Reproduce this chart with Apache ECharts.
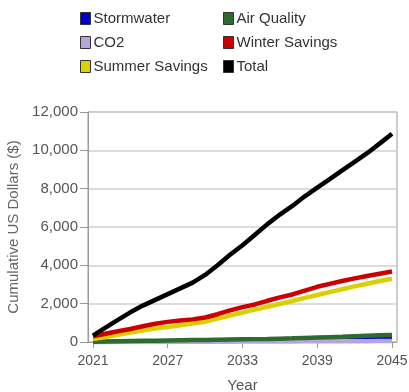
<!DOCTYPE html>
<html><head><meta charset="utf-8">
<script src="https://cdn.jsdelivr.net/npm/echarts@6/dist/echarts.min.js"></script>
<style>html,body{margin:0;padding:0;background:#fff}#c{width:409px;height:392px}</style>
</head><body><div id="c"></div>
<script>
var years = [2021,2022,2023,2024,2025,2026,2027,2028,2029,2030,2031,2032,2033,2034,2035,2036,2037,2038,2039,2040,2041,2042,2043,2044,2045];
var xTickLabels = [2021,2027,2033,2039,2045];
var yTickLabels = [0,2000,4000,6000,8000,10000,12000];
var stormwater = [0,5,10,15,20,25,30,35,40,45,50,55,60,65,70,75,80,90,100,110,120,130,140,150,160];
var co2 = [0,2,4,6,8,10,12,14,16,18,20,22,24,26,28,30,32,34,36,38,40,42,44,46,48];
var airQuality = [10,25,40,50,60,70,80,90,100,110,120,130,140,150,160,175,190,210,230,250,270,300,330,350,370];
var winterSavings = [300,430,560,680,820,950,1050,1120,1180,1280,1450,1650,1820,1960,2150,2330,2480,2680,2880,3030,3180,3320,3440,3560,3680];
var summerSavings = [150,260,380,500,600,700,780,870,960,1060,1220,1380,1530,1690,1840,1990,2140,2300,2450,2600,2750,2900,3040,3180,3300];
var total = [330,750,1150,1550,1900,2200,2500,2800,3100,3500,4000,4550,5050,5600,6150,6650,7100,7600,8050,8500,8950,9400,9850,10350,10870];

function pairs(v){ return years.map(function(y,i){ return [y, v[i]]; }); }
var font = 'Liberation Sans, Arial, sans-serif';
var seriesDefs = [
  ['Stormwater', stormwater, '#0000cc'],
  ['CO2', co2, '#b4a6dc'],
  ['Air Quality', airQuality, '#2f6a2f'],
  ['Summer Savings', summerSavings, '#d8d000'],
  ['Winter Savings', winterSavings, '#cc0000'],
  ['Total', total, '#000000']
];
var chart = echarts.init(document.getElementById('c'), null, {renderer:'canvas'});
var legendBase = {
  orient:'vertical', top:6, itemWidth:10, itemHeight:12, itemGap:9, icon:'rect',
  itemStyle:{borderColor:'#333', borderWidth:1},
  textStyle:{fontFamily:font, fontSize:15, color:'#333', padding:[0,0,0,-2]}
};
chart.setOption({
  animation:false,
  color: seriesDefs.map(function(s){return s[2];}),
  legend:[
    Object.assign({}, legendBase, {left:75, data:['Stormwater','CO2','Summer Savings']}),
    Object.assign({}, legendBase, {left:218, data:['Air Quality','Winter Savings','Total']})
  ],
  grid:{left:88, top:112, right:12, bottom:50, show:true, borderColor:'#999', borderWidth:1,
    containLabel:false, outerBoundsMode:'none'},
  xAxis:{
    type:'value', min:2020.6, max:2045.4,
    name:'Year', nameLocation:'middle', nameGap:36,
    nameTextStyle:{fontFamily:font, fontSize:15, color:'#555'},
    axisLine:{show:true, lineStyle:{color:'#999', width:1}},
    axisTick:{show:true, length:6, customValues:xTickLabels, lineStyle:{color:'#999'}},
    axisLabel:{customValues:xTickLabels, fontFamily:font, fontSize:14, color:'#555', margin:12,
      formatter:function(v){ return String(v); }},
    splitLine:{show:false}
  },
  yAxis:{
    type:'value', min:0, max:12000, interval:2000,
    name:'Cumulative US Dollars ($)', nameLocation:'middle', nameGap:56,
    nameTextStyle:{fontFamily:font, fontSize:15, color:'#666'},
    axisLine:{show:true, lineStyle:{color:'#999', width:1}},
    axisTick:{show:true, length:8, lineStyle:{color:'#999'}},
    axisLabel:{fontFamily:font, fontSize:15, color:'#555', margin:10,
      formatter:function(v){ return v.toLocaleString('en-US'); }},
    splitLine:{show:true, lineStyle:{color:'#d0d0d0', width:1.5}}
  },
  series: seriesDefs.map(function(s){
    return {name:s[0], type:'line', data:pairs(s[1]), showSymbol:false, symbol:'none',
      lineStyle:{width:4.5, color:s[2]}, itemStyle:{color:s[2]}};
  })
});
</script></body></html>
